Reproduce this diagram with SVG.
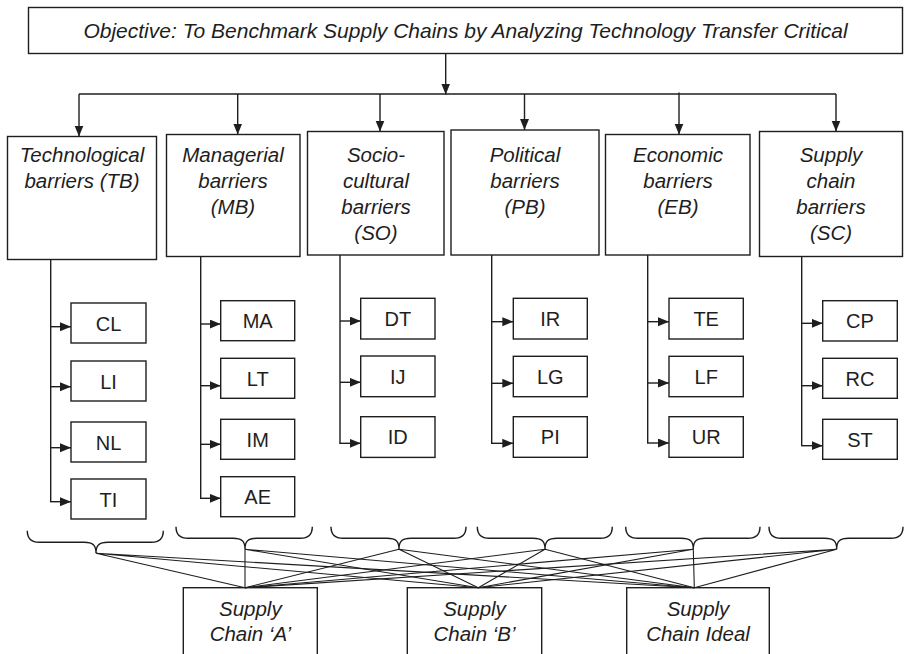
<svg xmlns="http://www.w3.org/2000/svg" width="904" height="654" viewBox="0 0 904 654">
  <style>
    .box { fill: #ffffff; stroke: #1e1e1e; stroke-width: 1.4; }
    .line { fill: none; stroke: #1e1e1e; stroke-width: 1.4; }
    .thin { fill: none; stroke: #1e1e1e; stroke-width: 1.1; }
    .arrow { fill: none; stroke: #1e1e1e; stroke-width: 1.4; marker-end: url(#head); }
    .it { font-family: "Liberation Sans", Arial, Helvetica, sans-serif; font-style: italic; fill: #1e1e1e; text-anchor: middle; }
    .top { font-size: 21px; }
    .cat { font-size: 20.5px; }
    .code { font-family: "Liberation Sans", Arial, Helvetica, sans-serif; font-size: 20px; fill: #1e1e1e; text-anchor: middle; }
  </style>
  <defs>
    <marker id="head" markerUnits="userSpaceOnUse" markerWidth="12" markerHeight="10" refX="11" refY="4.5" orient="auto">
      <path d="M0,0 L11,4.5 L0,9 Z" fill="#1e1e1e"/>
    </marker>
  </defs>

  <rect width="904" height="654" fill="#ffffff"/>

  <!-- objective -->
  <g id="objective">
    <rect class="box" x="28.5" y="7.5" width="874" height="46"/>
    <text class="it top" x="465.5" y="37.5">Objective: To Benchmark Supply Chains by Analyzing Technology Transfer Critical</text>
  </g>

  <!-- barrier categories -->
  <g id="TB">
    <rect class="box" x="7.5" y="136.5" width="149" height="123"/>
    <text class="it cat" x="82" y="162">Technological</text>
    <text class="it cat" x="82" y="188">barriers (TB)</text>
  </g>
  <g id="MB">
    <rect class="box" x="166.5" y="134.5" width="133.5" height="122"/>
    <text class="it cat" x="233" y="162">Managerial</text>
    <text class="it cat" x="233" y="188">barriers</text>
    <text class="it cat" x="233" y="214">(MB)</text>
  </g>
  <g id="SO">
    <rect class="box" x="307.5" y="131.5" width="136.5" height="123.5"/>
    <text class="it cat" x="376" y="162">Socio-</text>
    <text class="it cat" x="376" y="188">cultural</text>
    <text class="it cat" x="376" y="214">barriers</text>
    <text class="it cat" x="376" y="240">(SO)</text>
  </g>
  <g id="PB">
    <rect class="box" x="451" y="130" width="148" height="125"/>
    <text class="it cat" x="525" y="162">Political</text>
    <text class="it cat" x="525" y="188">barriers</text>
    <text class="it cat" x="525" y="214">(PB)</text>
  </g>
  <g id="EB">
    <rect class="box" x="605.5" y="134.5" width="144.5" height="120.5"/>
    <text class="it cat" x="678" y="162">Economic</text>
    <text class="it cat" x="678" y="188">barriers</text>
    <text class="it cat" x="678" y="214">(EB)</text>
  </g>
  <g id="SC">
    <rect class="box" x="759.5" y="131.5" width="143" height="125"/>
    <text class="it cat" x="831" y="162">Supply</text>
    <text class="it cat" x="831" y="188">chain</text>
    <text class="it cat" x="831" y="214">barriers</text>
    <text class="it cat" x="831" y="240">(SC)</text>
  </g>

  <!-- individual barriers -->
  <g id="CL"><rect class="box" x="71" y="303" width="75" height="40"/><text class="code" x="108.5" y="330.5">CL</text></g>
  <g id="LI"><rect class="box" x="71" y="361" width="75" height="40"/><text class="code" x="108.5" y="388.5">LI</text></g>
  <g id="NL"><rect class="box" x="71" y="422" width="75" height="40"/><text class="code" x="108.5" y="449.5">NL</text></g>
  <g id="TI"><rect class="box" x="71" y="479" width="75" height="40"/><text class="code" x="108.5" y="506.5">TI</text></g>

  <g id="MA"><rect class="box" x="220.7" y="300.7" width="74" height="40"/><text class="code" x="257.7" y="328">MA</text></g>
  <g id="LT"><rect class="box" x="220.7" y="358.3" width="74" height="40"/><text class="code" x="257.7" y="385.8">LT</text></g>
  <g id="IM"><rect class="box" x="220.7" y="419.3" width="74" height="40"/><text class="code" x="257.7" y="446.8">IM</text></g>
  <g id="AE"><rect class="box" x="220.7" y="476.7" width="74" height="40"/><text class="code" x="257.7" y="504.2">AE</text></g>

  <g id="DT"><rect class="box" x="360.7" y="298.3" width="74.3" height="40.7"/><text class="code" x="397.8" y="326">DT</text></g>
  <g id="IJ"><rect class="box" x="360.7" y="356" width="74.3" height="40.7"/><text class="code" x="397.8" y="383.7">IJ</text></g>
  <g id="ID"><rect class="box" x="360.7" y="416.7" width="74.3" height="40.7"/><text class="code" x="397.8" y="444.4">ID</text></g>

  <g id="IR"><rect class="box" x="513.3" y="298.3" width="74" height="40.7"/><text class="code" x="550.3" y="326">IR</text></g>
  <g id="LG"><rect class="box" x="513.3" y="356.3" width="74" height="40.4"/><text class="code" x="550.3" y="383.8">LG</text></g>
  <g id="PI"><rect class="box" x="513.3" y="416.7" width="74" height="40.6"/><text class="code" x="550.3" y="444.4">PI</text></g>

  <g id="TE"><rect class="box" x="669" y="298.3" width="74.3" height="40.7"/><text class="code" x="706.2" y="326">TE</text></g>
  <g id="LF"><rect class="box" x="669" y="356.3" width="74.3" height="40.4"/><text class="code" x="706.2" y="383.8">LF</text></g>
  <g id="UR"><rect class="box" x="669" y="416.7" width="74.3" height="40.6"/><text class="code" x="706.2" y="444.4">UR</text></g>

  <g id="CP"><rect class="box" x="822.7" y="300.7" width="74.6" height="40.3"/><text class="code" x="860" y="328.2">CP</text></g>
  <g id="RC"><rect class="box" x="822.7" y="358.3" width="74.6" height="40"/><text class="code" x="860" y="385.8">RC</text></g>
  <g id="ST"><rect class="box" x="822.7" y="419.3" width="74.6" height="40"/><text class="code" x="860" y="446.8">ST</text></g>

  <!-- supply chains being benchmarked -->
  <g id="chainA">
    <rect class="box" x="183.3" y="587.7" width="134" height="80"/>
    <text class="it cat" x="250.3" y="616">Supply</text>
    <text class="it cat" x="250.3" y="641">Chain ‘A’</text>
  </g>
  <g id="chainB">
    <rect class="box" x="407.3" y="587.7" width="134.4" height="80"/>
    <text class="it cat" x="474.5" y="616">Supply</text>
    <text class="it cat" x="474.5" y="641">Chain ‘B’</text>
  </g>
  <g id="chainIdeal">
    <rect class="box" x="626.7" y="587.7" width="142.6" height="80"/>
    <text class="it cat" x="698" y="616">Supply</text>
    <text class="it cat" x="698" y="641">Chain Ideal</text>
  </g>

  <!-- connectors -->
  <g id="connectors">
    <!-- objective to categories -->
    <path class="arrow" d="M445.7,53.5 V94.5"/>
    <path class="line" d="M79,94 H836"/>
    <path class="arrow" d="M79,94 V136.5"/>
    <path class="arrow" d="M237.7,94 V134.5"/>
    <path class="arrow" d="M380,94 V131.5"/>
    <path class="arrow" d="M524.5,94 V130"/>
    <path class="arrow" d="M679,92.5 V134.5"/>
    <path class="arrow" d="M836,94 V131.5"/>

    <!-- category stems -->
    <path class="line" d="M50.7,259.5 V501.7"/>
    <path class="arrow" d="M50.7,326.7 H71"/>
    <path class="arrow" d="M50.7,386.7 H71"/>
    <path class="arrow" d="M50.7,447.7 H71"/>
    <path class="arrow" d="M50,501.7 H71"/>

    <path class="line" d="M200.7,256.5 V498.3"/>
    <path class="arrow" d="M200.7,324 H220.7"/>
    <path class="arrow" d="M200.7,385.7 H220.7"/>
    <path class="arrow" d="M200.7,444.3 H220.7"/>
    <path class="arrow" d="M200,498.3 H220.7"/>

    <path class="line" d="M340,255 V443.3"/>
    <path class="arrow" d="M340,321 H360.7"/>
    <path class="arrow" d="M340,382.3 H360.7"/>
    <path class="arrow" d="M339.3,443.3 H360.7"/>

    <path class="line" d="M491.7,255 V443.3"/>
    <path class="arrow" d="M491.7,321.7 H513.3"/>
    <path class="arrow" d="M491.7,383.3 H513.3"/>
    <path class="arrow" d="M491,443.3 H513.3"/>

    <path class="line" d="M647.7,255 V443"/>
    <path class="arrow" d="M647.7,321.7 H669"/>
    <path class="arrow" d="M647.7,383 H669"/>
    <path class="arrow" d="M647,443 H669"/>

    <path class="line" d="M801.7,256.5 V445.7"/>
    <path class="arrow" d="M801.7,323.3 H822.7"/>
    <path class="arrow" d="M801.7,385.7 H822.7"/>
    <path class="arrow" d="M801,445.7 H822.7"/>

    <!-- braces grouping each category -->
    <path class="line" d="M27.3,530.7 Q27.3,542.3 39.3,542.3 H84 C93,542.3 96,545.3 96,553.3 C96,545.3 99,542.3 108,542.3 H151.3 Q163.3,542.3 163.3,530.7"/>
    <path class="line" d="M176,526.7 Q176,538.3 188,538.3 H233 C242,538.3 245,541.3 245,549.3 C245,541.3 248,538.3 257,538.3 H300.3 Q312.3,538.3 312.3,526.7"/>
    <path class="line" d="M331,526.7 Q331,538.3 343,538.3 H387 C396,538.3 399,541.3 399,549.3 C399,541.3 402,538.3 411,538.3 H454 Q466,538.3 466,526.7"/>
    <path class="line" d="M477.3,526.7 Q477.3,538.3 489.3,538.3 H533 C542,538.3 545,541.3 545,549.3 C545,541.3 548,538.3 557,538.3 H600.3 Q612.3,538.3 612.3,526.7"/>
    <path class="line" d="M625.7,526.7 Q625.7,538.3 637.7,538.3 H681.3 C690.3,538.3 693.3,541.3 693.3,549.3 C693.3,541.3 696.3,538.3 705.3,538.3 H748 Q760,538.3 760,526.7"/>
    <path class="line" d="M769,526.7 Q769,538.3 781,538.3 H824.7 C833.7,538.3 836.7,541.3 836.7,549.3 C836.7,541.3 839.7,538.3 848.7,538.3 H891 Q903,538.3 903,526.7"/>

    <!-- every category linked to every supply chain -->
    <path class="thin" d="M96,553.3 L245,587.7 M96,553.3 L478.3,587.7 M96,553.3 L694.3,587.7"/>
    <path class="thin" d="M245,549.3 L245,587.7 M245,549.3 L478.3,587.7 M245,549.3 L694.3,587.7"/>
    <path class="thin" d="M399,549.3 L245,587.7 M399,549.3 L478.3,587.7 M399,549.3 L694.3,587.7"/>
    <path class="thin" d="M545,549.3 L245,587.7 M545,549.3 L478.3,587.7 M545,549.3 L694.3,587.7"/>
    <path class="thin" d="M693.3,549.3 L245,587.7 M693.3,549.3 L478.3,587.7 M693.3,549.3 L694.3,587.7"/>
    <path class="thin" d="M836.7,549.3 L245,587.7 M836.7,549.3 L478.3,587.7 M836.7,549.3 L694.3,587.7"/>
  </g>
</svg>
